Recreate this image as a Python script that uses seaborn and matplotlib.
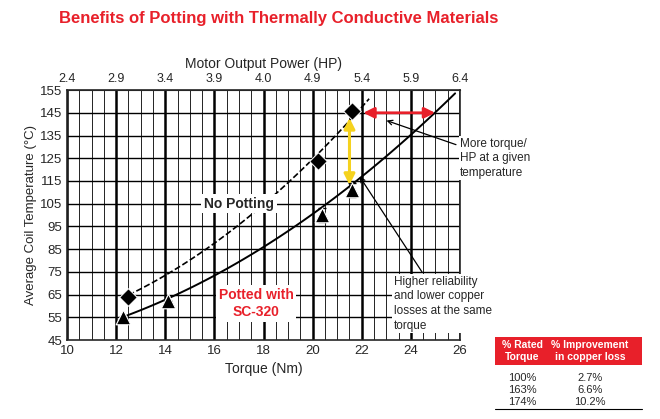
import matplotlib
matplotlib.use("Agg")
import matplotlib.pyplot as plt
import seaborn as sns
import numpy as np
import pandas as pd
from matplotlib.patches import Rectangle

sns.set_style("white")
plt.rcParams['font.family'] = ['Liberation Sans', 'DejaVu Sans']

no_pot_torque = [12.5, 20.2, 21.6]
no_pot_temp = [64, 124, 146]
pot_torque = [12.3, 14.1, 20.4, 21.6]
pot_temp = [55, 62, 100, 111]
pot_err = [0, 0, 3, 3]
dash_curve_x = [12.5, 14, 16, 18, 20, 21, 22.3]
dash_curve_y = [64, 74, 88.5, 105.5, 123, 134, 153]
solid_curve_x = [12.3, 14, 16, 18, 20, 22, 24, 25.8]
solid_curve_y = [55, 62.5, 74.5, 85.6, 100, 116.6, 135.8, 153.5]
top_labels = ["2.4", "2.9", "3.4", "3.9", "4.0", "4.9", "5.4", "5.9", "6.4"]
table_rated = ["100%", "163%", "174%"]
table_improve = ["2.7%", "6.6%", "10.2%"]

fig = plt.figure(figsize=(6.6, 4.19), dpi=100)
ax = fig.add_axes([0.1015, 0.1885, 0.5955, 0.5965])
ax.set_xlim(10, 26)
ax.set_ylim(45, 155)
for v in np.arange(10, 26.01, 0.5):
    thick = abs(v - round(v)) < 1e-6 and int(round(v)) % 2 == 0
    ax.axvline(v, color='black', lw=1.8 if thick else 0.6, zorder=0)
for v in range(55, 155, 10):
    ax.axhline(v, color='black', lw=1.0, zorder=0)
for s in ax.spines.values():
    s.set_linewidth(1.2)

# smooth fitted trend curves through the read points
def smooth(xs, ys):
    c = np.polyfit(xs, ys, 2)
    xx = np.linspace(min(xs), max(xs), 120)
    return xx, np.polyval(c, xx)

dx, dy = smooth(dash_curve_x, dash_curve_y)
sx, sy = smooth(solid_curve_x, solid_curve_y)
sns.lineplot(x=dx, y=dy, ax=ax, color='black', lw=1.2, linestyle='--', sort=True)
sns.lineplot(x=sx, y=sy, ax=ax, color='black', lw=1.4, sort=True)
ax.errorbar(pot_torque, pot_temp, yerr=pot_err, fmt='none', ecolor='black', capsize=3, lw=1)
sns.scatterplot(x=no_pot_torque, y=no_pot_temp, ax=ax, marker='D', s=80, color='black', zorder=5)
sns.scatterplot(x=pot_torque, y=pot_temp, ax=ax, marker='^', s=110, color='black', zorder=5)

ax.annotate('', xy=(21.5, 144), xytext=(21.5, 112),
            arrowprops=dict(arrowstyle='<|-|>', color='#f5d21e', lw=2.2, mutation_scale=16), zorder=6)
ax.annotate('', xy=(21.95, 145), xytext=(25.1, 145),
            arrowprops=dict(arrowstyle='<|-|>', color='#e8202a', lw=2, mutation_scale=16), zorder=6)

ax.text(17.0, 105, 'No Potting', fontsize=10, fontweight='bold', ha='center', va='center',
        bbox=dict(facecolor='white', edgecolor='none', pad=2), zorder=7)
ax.text(17.7, 61, 'Potted with\nSC-320', fontsize=10, fontweight='bold', color='#e8202a',
        ha='center', va='center', linespacing=1.3,
        bbox=dict(facecolor='white', edgecolor='none', pad=2), zorder=7)

ax.annotate('More torque/\nHP at a given\ntemperature', xy=(22.9, 142), xytext=(26.0, 125),
            fontsize=8.5, ha='left', va='center', linespacing=1.3,
            bbox=dict(facecolor='white', edgecolor='none', pad=1),
            arrowprops=dict(arrowstyle='->', color='black', lw=0.9), annotation_clip=False, zorder=8)
ax.annotate('Higher reliability\nand lower copper\nlosses at the same\ntorque', xy=(21.85, 118), xytext=(23.3, 61),
            fontsize=8.5, ha='left', va='center', linespacing=1.3,
            bbox=dict(facecolor='white', edgecolor='none', pad=1),
            arrowprops=dict(arrowstyle='->', color='black', lw=0.9), annotation_clip=False, zorder=8)

ax.set_xticks(range(10, 27, 2))
ax.set_yticks(range(45, 156, 10))
ax.tick_params(labelsize=9.5, length=0)
ax.set_xlabel('Torque (Nm)', fontsize=10)
ax.set_ylabel('Average Coil Temperature (°C)', fontsize=9.5, labelpad=2)

top = ax.secondary_xaxis('top')
top.set_xticks(list(range(10, 27, 2)))
top.set_xticklabels(top_labels)
top.tick_params(labelsize=9, length=0)
top.set_xlabel('Motor Output Power (HP)', fontsize=10)

fig.text(0.09, 0.955, 'Benefits of Potting with Thermally Conductive Materials', color='#e8202a',
         fontsize=12, fontweight='bold', ha='left', va='center',
         family=['Liberation Sans Narrow', 'Liberation Sans', 'DejaVu Sans'])

# table
fig.patches.append(Rectangle((495/660, 1-365/419), 147/660, 28/419, transform=fig.transFigure,
                             facecolor='#e8202a', edgecolor='none'))
fig.text(522/660, 1-351/419, '% Rated\nTorque', color='white', fontsize=7.5, fontweight='bold',
         ha='center', va='center', linespacing=1.2)
fig.text(590/660, 1-351/419, '% Improvement\nin copper loss', color='white', fontsize=7.5, fontweight='bold',
         ha='center', va='center', linespacing=1.2)
for i, (r, im) in enumerate(zip(table_rated, table_improve)):
    y = 1 - (378 + i * 12) / 419
    fig.text(522/660, y, r, fontsize=8, ha='center', va='center')
    fig.text(590/660, y, im, fontsize=8, ha='center', va='center')
fig.add_artist(plt.Line2D([495/660, 642/660], [1-409/419, 1-409/419], color='black', lw=0.8))

fig.savefig('out.png', dpi=100)
